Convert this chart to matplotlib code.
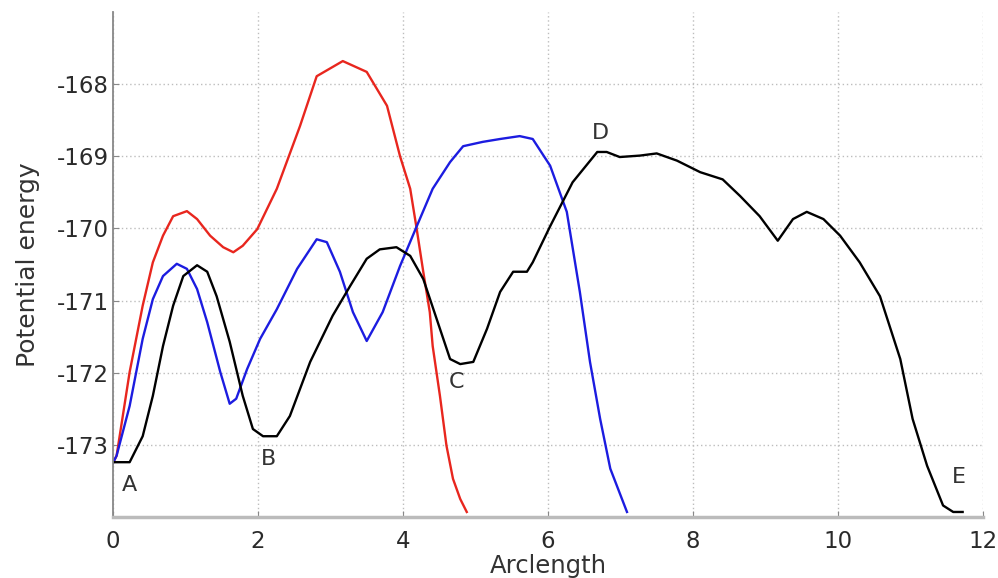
import numpy as np
import matplotlib.pyplot as plt

plt.rcParams['font.family'] = ['DejaVu Sans']
plt.rcParams['axes.unicode_minus'] = False

# red path
red_x = [0.0, 0.05, 0.23, 0.41, 0.55, 0.69, 0.83, 1.02, 1.16, 1.34, 1.52, 1.66, 1.79, 1.99,
         2.26, 2.58, 2.81, 3.17, 3.5, 3.78, 3.96, 4.1, 4.19, 4.28, 4.37, 4.41, 4.51, 4.6,
         4.69, 4.79, 4.88]
red_y = [-173.25, -173.15, -171.99, -171.07, -170.47, -170.1, -169.83, -169.76, -169.87, -170.1,
         -170.26, -170.33, -170.24, -170.01, -169.45, -168.58, -167.89, -167.68, -167.83, -168.3,
         -169.0, -169.45, -170.01, -170.6, -171.16, -171.63, -172.32, -173.01, -173.47, -173.75,
         -173.93]

# blue path
blue_x = [0.0, 0.05, 0.23, 0.41, 0.55, 0.69, 0.88, 1.02, 1.16, 1.3, 1.48, 1.61, 1.7, 1.85,
          2.03, 2.26, 2.54, 2.81, 2.95, 3.13, 3.31, 3.5, 3.72, 3.96, 4.19, 4.41, 4.65, 4.83,
          5.1, 5.34, 5.61, 5.79, 6.03, 6.26, 6.44, 6.58, 6.72, 6.86, 7.09]
blue_y = [-173.25, -173.15, -172.46, -171.53, -170.98, -170.66, -170.49, -170.56, -170.84, -171.3,
          -171.99, -172.43, -172.36, -171.95, -171.53, -171.12, -170.56, -170.15, -170.19, -170.6,
          -171.16, -171.56, -171.16, -170.52, -169.97, -169.45, -169.08, -168.86, -168.8, -168.76,
          -168.72, -168.76, -169.13, -169.77, -170.88, -171.85, -172.64, -173.33, -173.93]

# black path
black_x = [0.0, 0.05, 0.23, 0.41, 0.55, 0.69, 0.83, 0.97, 1.16, 1.3, 1.43, 1.61, 1.79, 1.93,
           2.07, 2.26, 2.44, 2.72, 3.03, 3.27, 3.5, 3.68, 3.91, 4.1, 4.28, 4.51, 4.65, 4.79,
           4.97, 5.16, 5.34, 5.52, 5.71, 5.79, 6.03, 6.34, 6.68, 6.81, 6.99, 7.27, 7.5, 7.78,
           8.1, 8.41, 8.65, 8.92, 9.17, 9.38, 9.57, 9.8, 10.03, 10.3, 10.58, 10.86, 11.03,
           11.23, 11.45, 11.59, 11.72]
black_y = [-173.24, -173.24, -173.24, -172.88, -172.32, -171.63, -171.07, -170.66, -170.51, -170.6,
           -170.94, -171.57, -172.32, -172.78, -172.88, -172.88, -172.6, -171.85, -171.21, -170.8,
           -170.42, -170.29, -170.26, -170.38, -170.7, -171.39, -171.81, -171.88, -171.85, -171.39,
           -170.88, -170.6, -170.6, -170.47, -169.97, -169.36, -168.94, -168.94, -169.01, -168.99,
           -168.96, -169.06, -169.22, -169.32, -169.55, -169.83, -170.17, -169.87, -169.77, -169.87,
           -170.1, -170.47, -170.94, -171.81, -172.64, -173.29, -173.84, -173.93, -173.93]

labels = ['A', 'B', 'C', 'D', 'E']
label_x = [0.23, 2.14, 4.74, 6.73, 11.67]
label_y = [-173.56, -173.2, -172.13, -168.68, -173.44]

fig = plt.figure(figsize=(9.98, 5.78), dpi=100)
ax = fig.add_axes([0.1132, 0.1055, 0.8717, 0.8737])

ax.plot(red_x, red_y, color='#e8261e', lw=1.7, solid_joinstyle='round')
ax.plot(blue_x, blue_y, color='#1c1ce0', lw=1.7, solid_joinstyle='round')
ax.plot(black_x, black_y, color='black', lw=1.7, solid_joinstyle='round')

for s, x, y in zip(labels, label_x, label_y):
    ax.text(x, y, s, fontsize=16, color='#333333', ha='center', va='center')

ax.set_xlim(0, 12)
ax.set_ylim(-174, -167)
ax.set_xticks(range(0, 13, 2))
ax.set_yticks(range(-173, -167))
ax.grid(True, linestyle=(0, (1, 2)), color='#bdbdbd', lw=1.0)
ax.tick_params(direction='in', length=4, labelsize=16.5, colors='#888888',
               labelcolor='#2a2a2a', pad=3)
ax.tick_params(axis='x', pad=9)
for side in ['top', 'right']:
    ax.spines[side].set_visible(False)
ax.spines['left'].set_color('#888888')
ax.spines['left'].set_linewidth(1.3)
ax.spines['bottom'].set_color('#bbbbbb')
ax.spines['bottom'].set_linewidth(2.5)

ax.set_xlabel('Arclength', fontsize=17.5, color='#333333', labelpad=1)
ax.set_ylabel('Potential energy', fontsize=18, color='#333333', labelpad=12)

fig.savefig('out.png', dpi=100)
